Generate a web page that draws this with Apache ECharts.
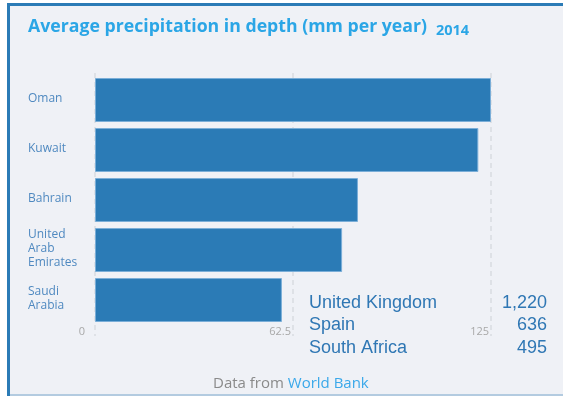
<!DOCTYPE html>
<html><head><meta charset="utf-8">
<script src="https://cdn.jsdelivr.net/npm/echarts@6/dist/echarts.min.js"></script>
<style>html,body{margin:0;padding:0;background:#fff}#c{width:563px;height:396px}</style>
</head><body><div id="c"></div>
<script>
const categories = ['Oman', 'Kuwait', 'Bahrain', 'United\nArab\nEmirates', 'Saudi\nArabia'];
const values = [125, 121, 83, 78, 59];
const xTicks = [0, 62.5, 125];
const compareNames = ['United Kingdom', 'Spain', 'South Africa'];
const compareValues = ['1,220', '636', '495'];

const chart = echarts.init(document.getElementById('c'), null, {renderer: 'canvas'});
const blue = '#2b7bb6';
const compareText = [];
compareNames.forEach((n, i) => {
  compareText.push({type: 'text', left: 309, top: 294 + i * 22.5, style: {text: n, font: '18px "Liberation Sans", Arial', fill: '#2f77b4'}});
  compareText.push({type: 'text', right: 16, top: 294 + i * 22.5, style: {text: compareValues[i], font: '18px "Liberation Sans", Arial', fill: '#2f77b4', align: 'right'}});
});
chart.setOption({
  backgroundColor: '#ffffff',
  animation: false,
  graphic: [
    {type: 'rect', z: -10, shape: {x: 7, y: 3, width: 560, height: 400}, style: {fill: '#eff1f6'}},
    {type: 'rect', z: -9, shape: {x: 7, y: 3, width: 560, height: 3}, style: {fill: blue}},
    {type: 'rect', z: -9, shape: {x: 7, y: 3, width: 3, height: 400}, style: {fill: blue}},
    {type: 'rect', z: -9, shape: {x: 10, y: 394, width: 560, height: 2}, style: {fill: '#b3cbe0'}},
    {type: 'text', left: 28, top: 18, style: {text: 'Average precipitation in depth (mm per year)', font: 'bold 17.7px "Open Sans"', fill: '#2ba6e6'}},
    {type: 'text', left: 436, top: 23, style: {text: '2014', font: 'bold 14.5px "Open Sans"', fill: '#2ba6e6'}},
    {type: 'text', left: 213, top: 376, style: {rich: {a: {fill: '#8a8a8a', font: '15px "Open Sans"'}, b: {fill: '#3aa8ea', font: '15px "Open Sans"'}}, text: '{a|Data from }{b|World Bank}'}}
  ].concat(compareText),
  grid: [
    {left: 95, right: 72, top: 73, bottom: 60},
    {left: 95, right: 72, top: 75, bottom: 71}
  ],
  xAxis: [
    {type: 'value', gridIndex: 0, min: 0, max: 125, interval: 62.5, axisLabel: {show: false}, axisLine: {show: false}, axisTick: {show: false},
     splitLine: {show: true, lineStyle: {type: [5, 4], color: '#d9dce1', width: 1.5}}},
    {type: 'value', gridIndex: 1, min: 0, max: 125, interval: 62.5, axisLine: {show: false}, axisTick: {show: false}, splitLine: {show: false},
     axisLabel: {show: true, margin: 1, align: 'right', color: '#a8a8a8', fontSize: 11, fontFamily: 'Open Sans',
       formatter: v => v === 0 ? '{z|0}' : (xTicks.indexOf(v) >= 0 ? '{n|' + v + '}' : ''),
       rich: {z: {padding: [0, 10, 0, 0], color: '#a8a8a8', fontSize: 11, fontFamily: 'Open Sans'}, n: {padding: [0, 2, 0, 0], color: '#a8a8a8', fontSize: 11, fontFamily: 'Open Sans'}}}}
  ],
  yAxis: [
    {type: 'category', gridIndex: 0, data: categories, show: false},
    {type: 'category', gridIndex: 1, data: categories, inverse: true, axisLine: {show: false}, axisTick: {show: false},
     axisLabel: {align: 'left', margin: 67, color: '#4f89c0', fontSize: 12, fontFamily: 'Open Sans', lineHeight: 14,
       formatter: v => '{t|' + v.split('\n').join('}\n{t|') + '}',
       rich: {t: {color: '#4f89c0', fontSize: 12, fontFamily: 'Open Sans', lineHeight: 14, padding: [0, 0, 3, 0]}}}}
  ],
  series: [{
    type: 'bar', xAxisIndex: 1, yAxisIndex: 1, data: values, barCategoryGap: '12%',
    itemStyle: {color: blue, borderColor: '#7aaed8', borderWidth: 1}
  }]
});
</script></body></html>
